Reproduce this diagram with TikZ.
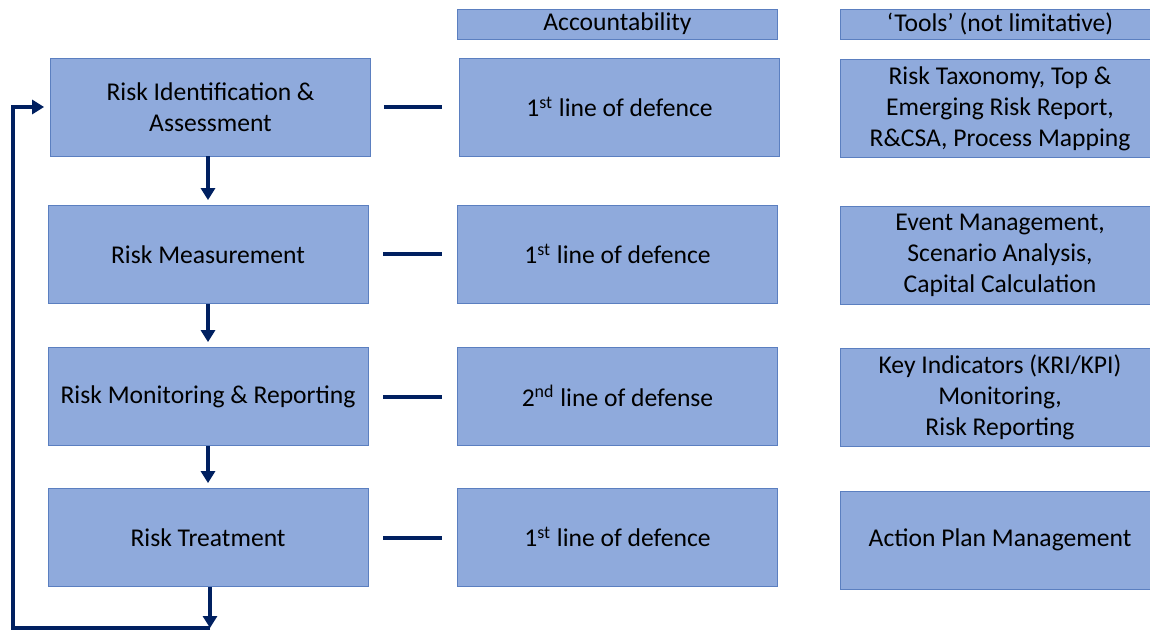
\documentclass[tikz,border=0pt]{standalone}
\usepackage{fontspec}
\setmainfont{Carlito}
\usetikzlibrary{arrows,arrows.meta}
\definecolor{boxblue}{HTML}{8FAADC}
\definecolor{boxedge}{HTML}{5B7FC0}
\definecolor{navy}{HTML}{002060}
\tikzset{
  stage/.style={draw=boxedge,fill=boxblue,minimum width=160pt,minimum height=49pt,align=center,inner sep=0pt},
  header/.style={stage,minimum height=15pt},
  link/.style={navy,line width=2pt},
  flow/.style={link,-{Triangle[width=7pt,length=6pt]},shorten >=2.5pt}
}
\begin{document}
\begin{tikzpicture}[x=0.5pt,y=-0.5pt]\fontsize{12.8}{15.5}\selectfont
  \useasboundingbox (0,0) rectangle (1150,630);

  % headers
  \node[header] (acc) at (617.5,24) {Accountability};
  \node[header] (tools) at (1000,24) {‘Tools’ (not limitative)};

  % process steps
  \node[stage] (ident) at (210.5,107) {Risk Identification \&\\Assessment};
  \node[stage] (meas) at (208,254.5) {Risk Measurement};
  \node[stage] (monit) at (208,396.5) {Risk Monitoring \& Reporting};
  \node[stage] (treat) at (208,537.5) {Risk Treatment};

  % accountability
  \node[stage] (accid) at (619.5,107) {1\textsuperscript{st} line of defence};
  \node[stage] (accmeas) at (617.5,254) {1\textsuperscript{st} line of defence};
  \node[stage] (accmonit) at (617.5,396) {2\textsuperscript{nd} line of defense};
  \node[stage] (acctreat) at (617.5,537) {1\textsuperscript{st} line of defence};

  % tools
  \node[stage] (toolid) at (1000,108.5) {Risk Taxonomy, Top \&\\Emerging Risk Report,\\R\&CSA, Process Mapping};
  \node[stage] (toolmeas) at (1000,255.5) {Event Management,\\Scenario Analysis,\\Capital Calculation};
  \node[stage] (toolmonit) at (1000,397.5) {Key Indicators (KRI/KPI)\\Monitoring,\\Risk Reporting};
  \node[stage] (tooltreat) at (1000,540) {Action Plan Management};

  % dashes to accountability
  \draw[link,shorten <=6.5pt,shorten >=8.5pt] (ident.east) -- (accid.west |- ident.east);
  \draw[link,shorten <=7.5pt,shorten >=7.5pt] (meas.east) -- (accmeas.west |- meas.east);
  \draw[link,shorten <=7.5pt,shorten >=7.5pt] (monit.east) -- (accmonit.west |- monit.east);
  \draw[link,shorten <=7.5pt,shorten >=7.5pt] (treat.east) -- (acctreat.west |- treat.east);

  % flow
  \draw[flow] (meas.north |- ident.south) -- (meas.north);
  \draw[flow] (monit.north |- meas.south) -- (monit.north);
  \draw[flow] (treat.north |- monit.south) -- (treat.north);

  % loop back
  \coordinate (loopend) at (210,628);
  \coordinate (loopcorner) at (13,628);
  \draw[flow,shorten >=0pt] (treat.south -| loopend) -- (loopend);
  \draw[flow,shorten >=3pt] (loopend) -- (loopcorner) |- (ident.west);
\end{tikzpicture}
\end{document}
